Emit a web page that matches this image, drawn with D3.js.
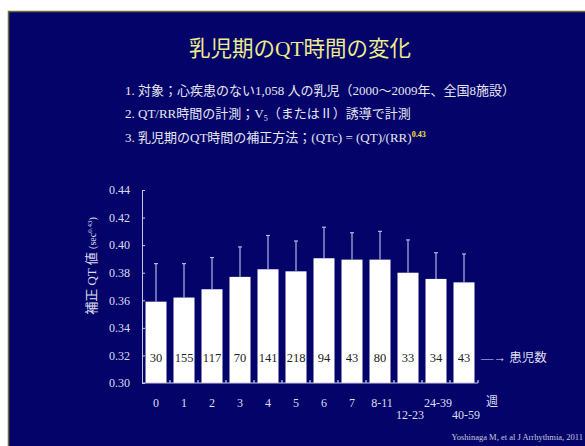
<!DOCTYPE html>
<html>
<head>
<meta charset="utf-8">
<script src="https://cdn.jsdelivr.net/npm/d3@7"></script>
<style>
  body { margin: 0; background: #fff; }
  svg { display: block; }
</style>
</head>
<body>
<svg id="chart" width="585" height="446"></svg>
<script>
// chart data
const weeks = ["0", "1", "2", "3", "4", "5", "6", "7", "8-11", "12-23", "24-39", "40-59"];
const qtcMean = [0.359, 0.362, 0.368, 0.377, 0.3825, 0.381, 0.3905, 0.3895, 0.3895, 0.380, 0.3755, 0.373];
const qtcSD = [0.0276, 0.0246, 0.023, 0.0217, 0.0245, 0.022, 0.0225, 0.0195, 0.0205, 0.0238, 0.019, 0.0206];
const patients = [30, 155, 117, 70, 141, 218, 94, 43, 80, 33, 34, 43];
const yTicks = [0.30, 0.32, 0.34, 0.36, 0.38, 0.40, 0.42, 0.44];
const lowerRowLabels = ["12-23", "40-59"];

const serif = "'Liberation Serif', 'Noto Sans CJK JP', serif";
const cjk = "'Liberation Serif', 'Noto Sans CJK JP', sans-serif";

const svg = d3.select("#chart");

// slide background + border
svg.append("rect")
  .attr("x", 8.5).attr("y", 11.5)
  .attr("width", 585).attr("height", 446)
  .attr("fill", "#03036a")
  .attr("stroke", "#6b6b35")
  .attr("stroke-width", 1.5);

// title
svg.append("text")
  .attr("x", 300).attr("y", 56)
  .attr("text-anchor", "middle")
  .attr("font-family", cjk)
  .attr("font-size", 21.5)
  .attr("fill", "#ecec8a")
  .text("乳児期のQT時間の変化");

// bullet lines
const lineColor = "#e6e6f0";
svg.append("text")
  .attr("x", 125).attr("y", 95)
  .attr("font-family", cjk).attr("font-size", 13)
  .attr("fill", lineColor)
  .text("1. 対象；心疾患のない1,058 人の乳児（2000～2009年、全国8施設）");

const l2 = svg.append("text")
  .attr("x", 125).attr("y", 118)
  .attr("font-family", cjk).attr("font-size", 13)
  .attr("fill", lineColor);
l2.append("tspan").text("2. QT/RR時間の計測；V");
l2.append("tspan").attr("dy", 3).attr("font-size", 8).text("5");
l2.append("tspan").attr("dy", -3).text("（またはⅡ）誘導で計測");

const l3 = svg.append("text")
  .attr("x", 125).attr("y", 142)
  .attr("font-family", cjk).attr("font-size", 13)
  .attr("fill", lineColor);
l3.append("tspan").text("3. 乳児期のQT時間の補正方法；(QTc) = (QT)/(RR)");
l3.append("tspan").attr("dy", -5).attr("font-size", 8)
  .attr("font-weight", "bold").attr("fill", "#f0e040").text("0.43");

// scales
const x = d3.scaleBand()
  .domain(weeks)
  .range([142, 478])
  .paddingInner(0.25)
  .paddingOuter(0.125);

const y = d3.scaleLinear()
  .domain([0.30, 0.44])
  .range([383, 190]);

const axisColor = "#c8c8e6";
const g = svg.append("g");

// y axis
const yAxis = g.append("g")
  .attr("transform", "translate(142,0)")
  .call(d3.axisLeft(y).tickValues(yTicks).tickFormat(d3.format(".2f")).tickSize(-3).tickPadding(12));
yAxis.select(".domain").attr("stroke", axisColor);
yAxis.selectAll(".tick line").attr("stroke", axisColor);
yAxis.selectAll(".tick text")
  .attr("fill", "#dedeee")
  .attr("font-family", serif)
  .attr("font-size", 12);

// bars
g.selectAll(".bar")
  .data(weeks)
  .enter()
  .append("rect")
  .attr("class", "bar")
  .attr("x", d => x(d))
  .attr("y", (d, i) => y(qtcMean[i]))
  .attr("width", x.bandwidth())
  .attr("height", (d, i) => y(0.30) - y(qtcMean[i]))
  .attr("fill", "#ffffff");

// error bars (upper only)
const eb = g.selectAll(".err")
  .data(weeks)
  .enter()
  .append("g")
  .attr("class", "err")
  .attr("stroke", "#b4b4e4")
  .attr("stroke-width", 1.2);
eb.append("line")
  .attr("x1", d => x(d) + x.bandwidth() / 2)
  .attr("x2", d => x(d) + x.bandwidth() / 2)
  .attr("y1", (d, i) => y(qtcMean[i]))
  .attr("y2", (d, i) => y(qtcMean[i] + qtcSD[i]));
eb.append("line")
  .attr("x1", d => x(d) + x.bandwidth() / 2 - 2)
  .attr("x2", d => x(d) + x.bandwidth() / 2 + 2)
  .attr("y1", (d, i) => y(qtcMean[i] + qtcSD[i]))
  .attr("y2", (d, i) => y(qtcMean[i] + qtcSD[i]));

// x axis line with ticks between bars
const xAxis = g.append("g").attr("stroke", axisColor).attr("stroke-width", 1.2);
xAxis.append("line")
  .attr("x1", 142).attr("x2", 478)
  .attr("y1", y(0.30)).attr("y2", y(0.30));
xAxis.selectAll(".xt")
  .data(weeks)
  .enter()
  .append("line")
  .attr("x1", d => x(d) + x.bandwidth() + (x.step() - x.bandwidth()) / 2)
  .attr("x2", d => x(d) + x.bandwidth() + (x.step() - x.bandwidth()) / 2)
  .attr("y1", y(0.30)).attr("y2", y(0.30) - 3);

// x tick labels
g.selectAll(".xl")
  .data(weeks)
  .enter()
  .append("text")
  .attr("x", d => x(d) + x.bandwidth() / 2 + (d.length > 3 ? 2 : 0))
  .attr("y", d => lowerRowLabels.includes(d) ? 419 : 407)
  .attr("text-anchor", "middle")
  .attr("font-family", serif)
  .attr("font-size", 12)
  .attr("fill", "#dedeee")
  .text(d => d);

svg.append("text")
  .attr("x", 492).attr("y", 406)
  .attr("text-anchor", "middle")
  .attr("font-family", cjk).attr("font-size", 12)
  .attr("fill", "#dedeee")
  .text("週");

// patient counts
g.selectAll(".cnt")
  .data(weeks)
  .enter()
  .append("text")
  .attr("x", d => x(d) + x.bandwidth() / 2)
  .attr("y", 362)
  .attr("text-anchor", "middle")
  .attr("font-family", serif)
  .attr("font-size", 12.5)
  .attr("fill", "#222")
  .text((d, i) => patients[i]);

svg.append("text")
  .attr("x", 481).attr("y", 362)
  .attr("font-family", cjk).attr("font-size", 12.5)
  .attr("fill", "#dedeee")
  .text("―→ 患児数");

// y axis title
const yt = svg.append("text")
  .attr("transform", "translate(96,266) rotate(-90)")
  .attr("text-anchor", "middle")
  .attr("font-family", cjk)
  .attr("font-size", 13)
  .attr("fill", "#dedeee");
yt.append("tspan").text("補正 QT 値 ");
yt.append("tspan").attr("font-size", 10).text("(sec");
yt.append("tspan").attr("font-size", 7).attr("dy", -4).text("0.43");
yt.append("tspan").attr("font-size", 10).attr("dy", 4).text(")");

// source
svg.append("text")
  .attr("x", 583).attr("y", 440)
  .attr("text-anchor", "end")
  .attr("font-family", serif)
  .attr("font-size", 8.5)
  .attr("fill", "#c8c8dc")
  .text("Yoshinaga M, et al  J Arrhythmia, 2011");
</script>
</body>
</html>
